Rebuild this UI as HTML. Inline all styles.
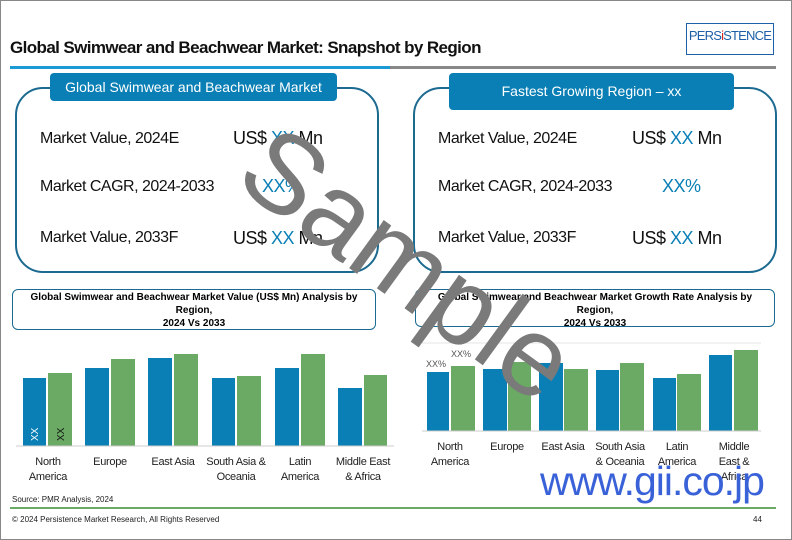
<!DOCTYPE html>
<html><head><meta charset="utf-8"><style>
body{margin:0;width:792px;height:540px;overflow:hidden;background:#fff;font-family:"Liberation Sans",sans-serif;position:relative}
.a{position:absolute;white-space:nowrap}
.row{font-size:16px;color:#111;letter-spacing:-0.5px}
.xx{color:#0a7fb5}
.lbl{font-size:11px;color:#222;text-align:center;line-height:15px;letter-spacing:-0.3px}
</style></head><body>
<div class="a" style="left:0;top:0;width:790px;height:538px;border:1px solid #888"></div>
<div class="a" style="left:10px;top:38px;font-size:17px;font-weight:bold;letter-spacing:-0.6px;color:#111">Global Swimwear and Beachwear Market: Snapshot by Region</div>
<div class="a" style="left:686px;top:23px;width:86px;height:30px;border:1px solid #1d5fa8;color:#1d5fa8;font-size:13px;text-align:center;line-height:24px;letter-spacing:-0.8px">PERS<span style="color:#d22">i</span>STENCE</div>
<div class="a" style="left:10px;top:66px;width:380px;height:3px;background:#1c9ad6"></div>
<div class="a" style="left:390px;top:66px;width:386px;height:3px;background:#888"></div>

<div class="a" style="left:15px;top:87px;width:360px;height:182px;border:2px solid #1b6a90;border-radius:28px"></div>
<div class="a" style="left:50px;top:73px;width:287px;height:28px;background:#0a7fb5;border-radius:4px;color:#fff;font-size:14px;text-align:center;line-height:28px">Global Swimwear and Beachwear Market</div>
<div class="a" style="left:413px;top:87px;width:360px;height:182px;border:2px solid #1b6a90;border-radius:28px"></div>
<div class="a" style="left:449px;top:73px;width:285px;height:37px;background:#0a7fb5;border-radius:4px;color:#fff;font-size:14px;text-align:center;line-height:37px">Fastest Growing Region – xx</div>

<div class="a row" style="left:40px;top:130px">Market Value, 2024E</div>
<div class="a row" style="left:40px;top:178px">Market CAGR, 2024-2033</div>
<div class="a row" style="left:40px;top:229px">Market Value, 2033F</div>
<div class="a row" style="left:233px;top:128px;font-size:18px">US$ <span class="xx">XX</span> Mn</div>
<div class="a row" style="left:262px;top:176px;font-size:18px"><span class="xx">XX%</span></div>
<div class="a row" style="left:233px;top:228px;font-size:18px">US$ <span class="xx">XX</span> Mn</div>
<div class="a row" style="left:438px;top:130px">Market Value, 2024E</div>
<div class="a row" style="left:438px;top:178px">Market CAGR, 2024-2033</div>
<div class="a row" style="left:438px;top:229px">Market Value, 2033F</div>
<div class="a row" style="left:632px;top:128px;font-size:18px">US$ <span class="xx">XX</span> Mn</div>
<div class="a row" style="left:662px;top:176px;font-size:18px"><span class="xx">XX%</span></div>
<div class="a row" style="left:632px;top:228px;font-size:18px">US$ <span class="xx">XX</span> Mn</div>

<div class="a" style="left:12px;top:289px;width:362px;height:38px;border:1px solid #1b6a90;border-radius:6px;font-size:10px;font-weight:bold;text-align:center;line-height:13px;padding-top:1px">Global Swimwear and Beachwear Market Value (US$ Mn) Analysis by<br>Region,<br>2024 Vs 2033</div>
<div class="a" style="left:415px;top:289px;width:358px;height:35px;border:1px solid #1b6a90;border-radius:6px;font-size:10px;font-weight:bold;text-align:center;line-height:13px;padding-top:1px">Global Swimwear and Beachwear Market Growth Rate Analysis by<br>Region,<br>2024 Vs 2033</div>

<svg class="a" style="left:0;top:0" width="792" height="540">
<g fill="#0a7fb5">
<rect x="23" y="378" width="23" height="68"/><rect x="85" y="368" width="24" height="78"/><rect x="148" y="358" width="24" height="88"/><rect x="212" y="378" width="23" height="68"/><rect x="275" y="368" width="24" height="78"/><rect x="338" y="388" width="24" height="58"/>
<rect x="427" y="372" width="22" height="59"/><rect x="483" y="369" width="24" height="62"/><rect x="539" y="363" width="24" height="68"/><rect x="596" y="370" width="23" height="61"/><rect x="653" y="378" width="23" height="53"/><rect x="709" y="355" width="23" height="76"/>
</g>
<g fill="#6aaa64">
<rect x="48" y="373" width="24" height="73"/><rect x="111" y="359" width="24" height="87"/><rect x="174" y="354" width="24" height="92"/><rect x="237" y="376" width="24" height="70"/><rect x="301" y="354" width="24" height="92"/><rect x="364" y="375" width="23" height="71"/>
<rect x="451" y="366" width="24" height="65"/><rect x="508" y="362" width="23" height="69"/><rect x="564" y="369" width="24" height="62"/><rect x="620" y="363" width="24" height="68"/><rect x="677" y="374" width="24" height="57"/><rect x="734" y="350" width="24" height="81"/>
</g>
<g stroke="#ccc"><line x1="16" y1="446" x2="394" y2="446"/><line x1="422" y1="431" x2="761" y2="431"/><line x1="422" y1="343" x2="761" y2="343" stroke="#e4e4e4"/></g>
<g font-size="10" fill="#fff" font-family="Liberation Sans"><text x="38" y="441" transform="rotate(-90 38 441)" >XX</text></g>
<g font-size="10" fill="#111" font-family="Liberation Sans"><text x="64" y="441" transform="rotate(-90 64 441)">XX</text></g>
<text x="426" y="367" font-size="9" fill="#555" font-family="Liberation Sans">XX%</text>
<text x="451" y="357" font-size="9" fill="#555" font-family="Liberation Sans">XX%</text>
<text transform="translate(232,183) rotate(36)" font-size="112" fill="#7a7a7a" font-family="Liberation Sans">Sample</text>
</svg>

<div class="a lbl" style="left:18px;top:455px;width:60px">North<br>America</div>
<div class="a lbl" style="left:80px;top:455px;width:60px">Europe</div>
<div class="a lbl" style="left:143px;top:455px;width:60px">East Asia</div>
<div class="a lbl" style="left:201px;top:455px;width:70px">South Asia &amp;<br>Oceania</div>
<div class="a lbl" style="left:270px;top:455px;width:60px">Latin<br>America</div>
<div class="a lbl" style="left:328px;top:455px;width:70px">Middle East<br>&amp; Africa</div>
<div class="a lbl" style="left:420px;top:440px;width:60px">North<br>America</div>
<div class="a lbl" style="left:477px;top:440px;width:60px">Europe</div>
<div class="a lbl" style="left:533px;top:440px;width:60px">East Asia</div>
<div class="a lbl" style="left:585px;top:440px;width:70px">South Asia<br>&amp; Oceania</div>
<div class="a lbl" style="left:647px;top:440px;width:60px">Latin<br>America</div>
<div class="a lbl" style="left:704px;top:440px;width:60px">Middle<br>East &amp;<br>Africa</div>

<div class="a" style="left:540px;top:458px;font-size:41px;color:#3a62d8;letter-spacing:-1px">www.gii.co.jp</div>
<div class="a" style="left:12px;top:495px;font-size:8px;color:#222">Source: PMR Analysis, 2024</div>
<div class="a" style="left:10px;top:507px;width:766px;height:2px;background:#6aaa64"></div>
<div class="a" style="left:12px;top:515px;font-size:8px;color:#222">© 2024 Persistence Market Research, All Rights Reserved</div>
<div class="a" style="left:753px;top:515px;font-size:8px;color:#222">44</div>
</body></html>
